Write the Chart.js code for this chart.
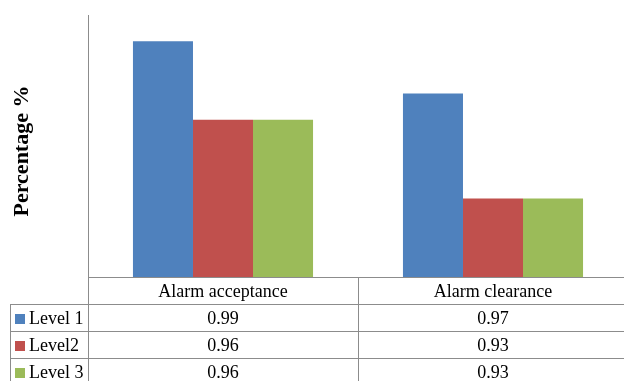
<!DOCTYPE html>
<html>
<head>
<meta charset="utf-8">
<script src="https://cdn.jsdelivr.net/npm/chart.js@4"></script>
<style>
  html, body { margin: 0; background: #fff; overflow: hidden; }
</style>
</head>
<body>
<!-- plot runs a few px past the right edge, like the original -->
<canvas id="chart" width="628" height="381"></canvas>
<script>
const categories = ["Alarm acceptance", "Alarm clearance"];
const seriesNames = ["Level 1", "Level2", "Level 3"];
const level1 = [0.99, 0.97];
const level2 = [0.96, 0.93];
const level3 = [0.96, 0.93];
const colors = ["#4F81BD", "#C0504D", "#9BBB59"];
const yTitle = "Percentage %";

const tableFont = "18px 'Liberation Serif'";
const lineColor = "#8c8c8c";

// data table under the plot, Excel style
const dataTable = {
  id: "dataTable",
  afterDraw(chart) {
    const ctx = chart.ctx;
    const area = chart.chartArea;
    const x = chart.scales.x;
    const headTop = area.bottom;
    const rowLines = [304, 331, 358];
    const keyLeft = 10;
    ctx.save();
    ctx.strokeStyle = lineColor;
    ctx.lineWidth = 1;

    // axes
    ctx.beginPath();
    ctx.moveTo(area.left + 0.5, area.top);
    ctx.lineTo(area.left + 0.5, chart.height);
    ctx.moveTo(area.left, headTop + 0.5);
    ctx.lineTo(chart.width, headTop + 0.5);
    ctx.stroke();

    // grid lines of the table
    ctx.beginPath();
    const mid = Math.round((x.getPixelForValue(0) + x.getPixelForValue(1)) / 2) + 0.5;
    ctx.moveTo(mid, headTop);
    ctx.lineTo(mid, chart.height);
    ctx.moveTo(keyLeft + 0.5, rowLines[0]);
    ctx.lineTo(keyLeft + 0.5, chart.height);
    rowLines.forEach((y) => {
      ctx.moveTo(keyLeft, y + 0.5);
      ctx.lineTo(chart.width, y + 0.5);
    });
    ctx.stroke();

    ctx.font = tableFont;
    ctx.fillStyle = "#000";
    ctx.textBaseline = "middle";
    ctx.textAlign = "center";
    categories.forEach((c, i) => {
      ctx.fillText(c, x.getPixelForValue(i), (headTop + rowLines[0]) / 2 + 2);
    });

    chart.data.datasets.forEach((ds, r) => {
      const cy = rowLines[r] + 15;
      ctx.fillStyle = ds.backgroundColor;
      ctx.fillRect(15, cy - 5, 10, 10);
      ctx.fillStyle = "#000";
      ctx.textAlign = "left";
      ctx.fillText(ds.label, 29, cy);
      ctx.textAlign = "center";
      ds.data.forEach((v, i) => {
        ctx.fillText(v.toFixed(2), x.getPixelForValue(i), cy);
      });
    });

    // y axis title
    ctx.translate(28, 151);
    ctx.rotate(-Math.PI / 2);
    ctx.font = "bold 22px 'Liberation Serif'";
    ctx.textAlign = "center";
    ctx.textBaseline = "alphabetic";
    ctx.fillText(yTitle, 0, 0);
    ctx.restore();
  }
};

new Chart(document.getElementById("chart"), {
  type: "bar",
  data: {
    labels: categories,
    datasets: [
      { label: seriesNames[0], data: level1, backgroundColor: colors[0] },
      { label: seriesNames[1], data: level2, backgroundColor: colors[1] },
      { label: seriesNames[2], data: level3, backgroundColor: colors[2] },
    ],
  },
  options: {
    responsive: false,
    animation: false,
    layout: { padding: { left: 88, top: 15, right: 0, bottom: 104 } },
    datasets: { bar: { categoryPercentage: 0.667, barPercentage: 1, borderWidth: 0 } },
    plugins: { legend: { display: false }, tooltip: { enabled: false } },
    scales: {
      x: { display: false },
      y: { display: false, min: 0.9, max: 1.0 },
    },
  },
  plugins: [dataTable],
});
</script>
</body>
</html>
